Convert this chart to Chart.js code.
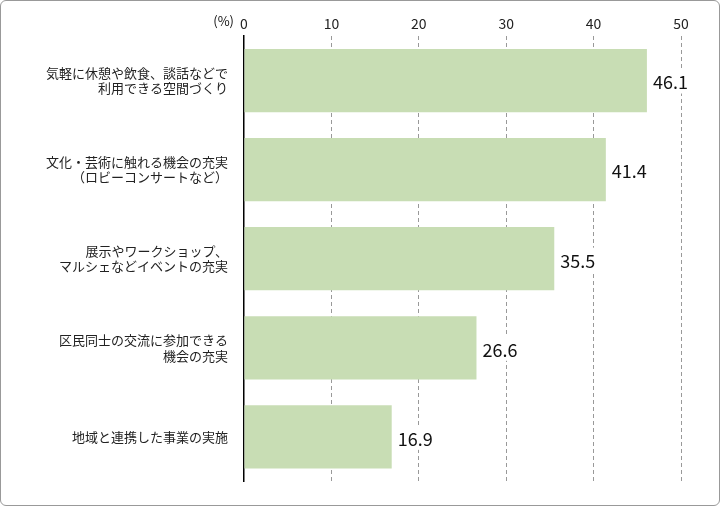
<!DOCTYPE html>
<html>
<head>
<meta charset="utf-8">
<script src="https://cdn.jsdelivr.net/npm/chart.js@4"></script>
<style>
  html, body { margin: 0; padding: 0; background: #fff; }
  #wrap { position: absolute; left: 0; top: 0; width: 718px; height: 504px; border: 1px solid #999; border-radius: 6px; }
  canvas { display: block; }
</style>
</head>
<body>
<div id="wrap"><canvas id="c" width="718" height="504"></canvas></div>
<script>
// 項目名（2行ラベルは配列）
const categories = [
    ["気軽に休憩や飲食、談話などで", "利用できる空間づくり"],
    ["文化・芸術に触れる機会の充実", "（ロビーコンサートなど）"],
    ["展示やワークショップ、", "マルシェなどイベントの充実"],
    ["区民同士の交流に参加できる", "機会の充実"],
    ["地域と連携した事業の実施"],
];
const values = [46.1, 41.4, 35.5, 26.6, 16.9];
const xTicks = [0, 10, 20, 30, 40, 50];

const FONT = "'Noto Sans CJK JP', 'Noto Sans', sans-serif";

// 棒の右に数値（白地つき）、軸の左上に (%)
const labelPlugin = {
    id: "labels",
    afterDatasetsDraw(chart) {
        const ctx = chart.ctx;
        const meta = chart.getDatasetMeta(0);
        ctx.save();
        ctx.font = "18px " + FONT;
        ctx.textBaseline = "middle";
        meta.data.forEach((bar, i) => {
            const t = values[i].toFixed(1);
            const w = ctx.measureText(t).width;
            ctx.fillStyle = "#fff";
            ctx.fillRect(bar.x + 3, bar.y - 11, w + 6, 24);
            ctx.fillStyle = "#111";
            ctx.fillText(t, bar.x + 6, bar.y + 2);
        });
        ctx.font = "13px " + FONT;
        ctx.textAlign = "right";
        ctx.fillText("(%)", chart.chartArea.left - 10, 20);
        ctx.restore();
    },
};

new Chart(document.getElementById("c"), {
    type: "bar",
    data: {
        labels: categories,
        datasets: [{
            data: values,
            backgroundColor: "#c8ddb4",
            barPercentage: 0.71,
            categoryPercentage: 1,
        }],
    },
    options: {
        indexAxis: "y",
        responsive: false,
        animation: false,
        layout: { padding: { left: 0, right: 38, top: 0, bottom: 0 } },
        plugins: { legend: { display: false }, tooltip: { enabled: false } },
        scales: {
            x: {
                position: "top",
                min: 0,
                max: 50,
                afterBuildTicks: (s) => { s.ticks = xTicks.map((v) => ({ value: v })); },
                afterFit: (s) => { s.height = 35; },
                ticks: { font: { family: FONT, size: 14 }, color: "#222", padding: 4 },
                grid: {
                    color: (c) => (c.tick && c.tick.value === 0 ? "rgba(0,0,0,0)" : "#999"),
                    drawTicks: false,
                },
                border: { display: false, dash: [4, 3] },
            },
            y: {
                afterFit: (s) => { s.width = 243; },
                ticks: { font: { family: FONT, size: 13 }, color: "#222", padding: 8 },
                grid: { display: false },
                border: { color: "#000", width: 1.5 },
            },
        },
    },
    plugins: [labelPlugin],
});
</script>
</body>
</html>
